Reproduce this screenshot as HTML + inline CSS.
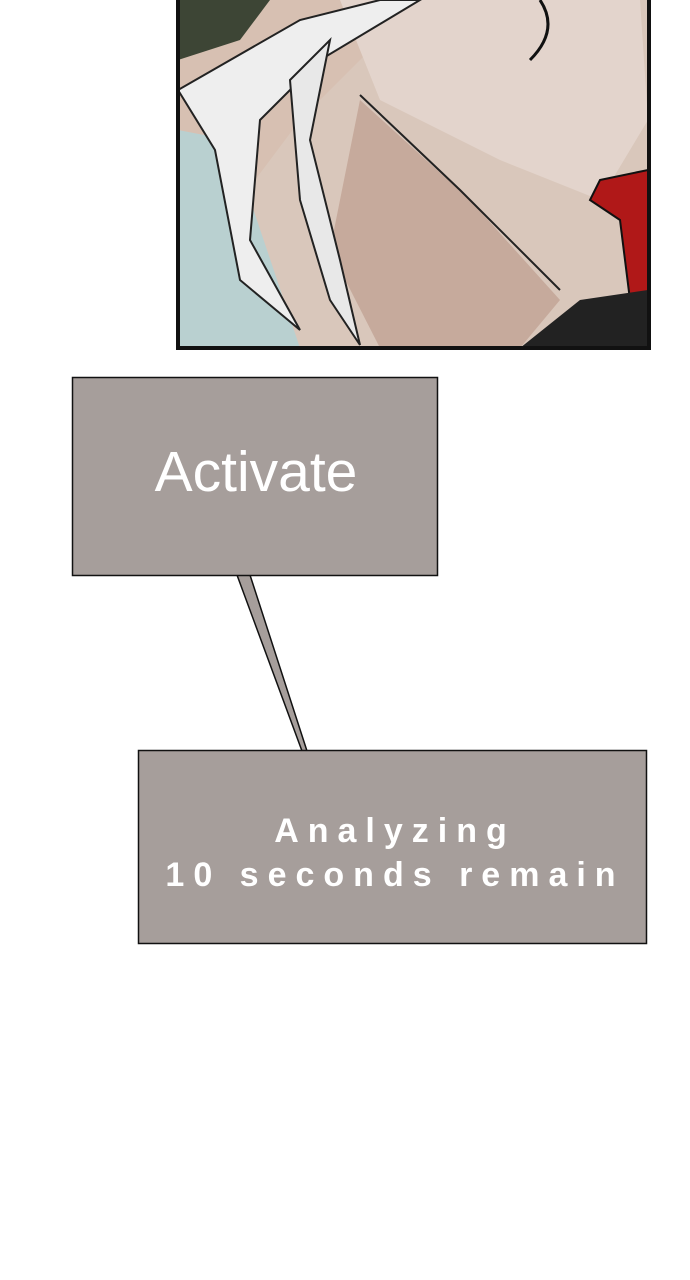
<!DOCTYPE html>
<html><head><style>
html,body{margin:0;padding:0;background:#fff;width:690px;height:1280px;overflow:hidden;position:relative;font-family:"Liberation Sans",sans-serif}
</style></head><body>
<svg width="690" height="1280" style="position:absolute;left:0;top:0">
<defs><clipPath id="c"><rect x="178" y="0" width="470" height="348"/></clipPath></defs>
<g clip-path="url(#c)">
<rect x="178" y="0" width="470" height="348" fill="#d9c7bb"/>
<path d="M178 0 L420 0 L300 120 L240 200 L178 260Z" fill="#d7c0b2"/>
<path d="M178 130 L230 140 L300 348 L178 348Z" fill="#b9d0d0"/>
<path d="M178 0 L270 0 L240 40 L178 60Z" fill="#3d4535"/>
<path d="M340 0 L640 0 L648 120 L600 200 L500 160 L380 100Z" fill="#e3d4cc"/>
<path d="M360 100 L470 200 L560 300 L520 348 L380 348 L330 250Z" fill="#c6aa9c"/>
<path d="M178 90 L300 20 L380 0 L420 0 L320 60 L260 120 L250 240 L300 330 L240 280 L215 150Z" fill="#eeeeee" stroke="#222" stroke-width="2"/>
<path d="M290 80 L330 40 L310 140 L340 260 L360 345 L330 300 L300 200Z" fill="#e8e8e8" stroke="#222" stroke-width="2"/>
<path d="M600 180 L648 170 L648 300 L630 300 L620 220 L590 200Z" fill="#b01818" stroke="#111" stroke-width="2"/>
<path d="M520 348 L580 300 L648 290 L648 348Z" fill="#222"/>
<path d="M360 95 L460 190 L560 290" stroke="#222" stroke-width="2" fill="none"/>
<path d="M540 0 Q560 30 530 60" stroke="#111" stroke-width="3" fill="none"/>
</g>
<rect x="178" y="-4" width="471" height="352" fill="none" stroke="#111" stroke-width="4"/>
<polygon points="237,575 250,575 307,751 302,751" fill="#a69e9b" stroke="#111" stroke-width="1.5"/>
<rect x="72.5" y="377.5" width="365" height="198" fill="#a69e9b" stroke="#111" stroke-width="1.5"/>
<rect x="138.5" y="750.5" width="508" height="193" fill="#a69e9b" stroke="#111" stroke-width="1.5"/>
<text x="256" y="491" text-anchor="middle" fill="#fff" font-size="57" font-family="Liberation Sans, sans-serif">Activate</text>
<text x="395" y="842" text-anchor="middle" fill="#fff" font-size="34" font-weight="bold" letter-spacing="9" font-family="Liberation Sans, sans-serif">Analyzing</text>
<text x="395" y="886" text-anchor="middle" fill="#fff" font-size="34" font-weight="bold" letter-spacing="9" font-family="Liberation Sans, sans-serif">10 seconds remain</text>
</svg>
</body></html>
